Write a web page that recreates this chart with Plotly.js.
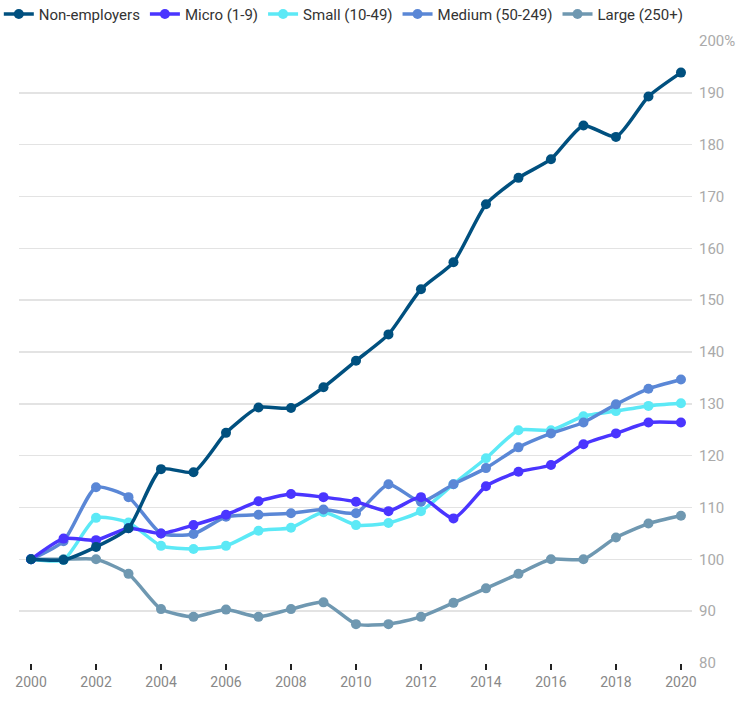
<!DOCTYPE html>
<html>
<head>
<meta charset="utf-8">
<script src="https://cdn.plot.ly/plotly-3.0.1.min.js"></script>
<style>html,body{margin:0;padding:0;background:#fff}#chart{width:747px;height:704px}</style>
</head>
<body>
<div id="chart"></div>
<script>
const years = [2000,2001,2002,2003,2004,2005,2006,2007,2008,2009,2010,2011,2012,2013,2014,2015,2016,2017,2018,2019,2020];
const nonEmployers = [100,99.9,102.4,106.0,117.4,116.8,124.4,129.3,129.2,133.2,138.3,143.4,152.1,157.3,168.5,173.6,177.2,183.7,181.5,189.3,193.9];
const micro = [100,104.0,103.7,106.0,105.0,106.6,108.6,111.2,112.6,112.0,111.1,109.3,112.0,107.9,114.1,116.9,118.2,122.2,124.3,126.4,126.4];
const small = [100,99.9,108.0,107.1,102.6,102.0,102.6,105.5,106.1,109.1,106.6,107.0,109.3,114.5,119.5,124.9,124.9,127.6,128.6,129.6,130.1];
const medium = [100,103.5,113.9,112.0,105.0,104.9,108.2,108.6,108.9,109.6,108.9,114.5,111.1,114.5,117.6,121.6,124.3,126.4,129.9,132.9,134.7];
const large = [100,100,100,97.2,90.4,88.9,90.3,88.9,90.4,91.7,87.5,87.5,88.9,91.6,94.4,97.2,100,100,104.2,106.9,108.4];
const seriesNames = ["Non-employers","Micro (1-9)","Small (10-49)","Medium (50-249)","Large (250+)"];
const yTickVals = [80,90,100,110,120,130,140,150,160,170,180,190,200];
const yTickText = ["80","90","100","110","120","130","140","150","160","170","180","190","200%"];
const xTickVals = [2000,2002,2004,2006,2008,2010,2012,2014,2016,2018,2020];

const colors = ["#00507f","#4a35ff","#5ce9f6","#5a87d6","#6f98b1"];
const data = [nonEmployers, micro, small, medium, large];

function mk(i){
  return {
    x: years, y: data[i], name: seriesNames[i], type: 'scatter', mode: 'lines+markers',
    legendrank: i + 1,
    line: {color: colors[i], width: 3.5, shape: 'spline', smoothing: 0.6},
    marker: {color: colors[i], size: 10},
    cliponaxis: false
  };
}
const traces = [mk(4), mk(2), mk(3), mk(1), mk(0)];

const layout = {
  width: 747, height: 704,
  margin: {l: 19, r: 55, t: 41, b: 41, autoexpand: false},
  paper_bgcolor: '#fff', plot_bgcolor: '#fff',
  font: {family: 'Roboto, sans-serif', color: '#333'},
  showlegend: true,
  legend: {orientation: 'h', x: -0.03, xanchor: 'left', y: 1.043, yanchor: 'middle',
    font: {size: 15, color: '#333'}, itemwidth: 30, bgcolor: 'rgba(0,0,0,0)'},
  xaxis: {
    range: [1999.63, 2020.34], tickvals: xTickVals, ticks: 'outside', ticklen: 6, tickwidth: 2,
    tickcolor: '#222', showgrid: false, zeroline: false, showline: false,
    tickfont: {size: 14, color: '#888'}, fixedrange: true
  },
  yaxis: {
    range: [80, 200], side: 'right', tickvals: yTickVals, ticktext: yTickText,
    showgrid: true, gridcolor: '#e3e3e3', gridwidth: 1.5, zeroline: false, showline: false,
    tickfont: {size: 15, color: '#aaa'}, ticks: '', ticklabelstandoff: 6, fixedrange: true
  }
};
Plotly.newPlot('chart', traces, layout, {displayModeBar: false, staticPlot: true});
</script>
</body>
</html>
